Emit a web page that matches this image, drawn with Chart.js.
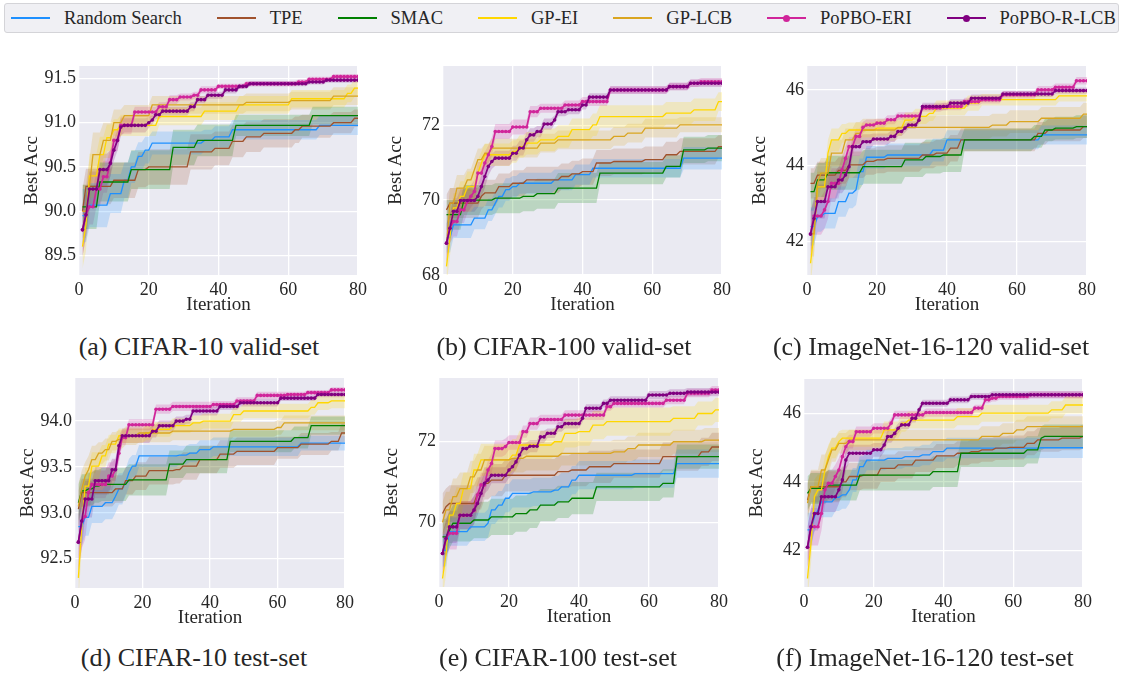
<!DOCTYPE html>
<html>
<head>
<meta charset="utf-8">
<script src="https://cdn.jsdelivr.net/npm/chart.js@4.4.1/dist/chart.umd.min.js"></script>
<style>
  body { margin: 0; width: 1123px; height: 673px; background: #fff; position: relative; overflow: hidden; font-family: 'Liberation Serif', 'DejaVu Serif', serif; color: #262626; }
  #legend { position: absolute; left: 4px; top: 3px; width: 1115px; height: 30px; box-sizing: border-box; border: 1px solid #d4d4d8; border-radius: 3px; background: #f0f0f4; display: flex; align-items: center; padding-left: 6px; gap: 35px; font-size: 18.5px; }
  .item { display: flex; align-items: center; white-space: nowrap; }
  .swatch { position: relative; width: 39px; height: 2.6px; margin-right: 14px; }
  .swatch i { position: absolute; left: 16px; top: -2.2px; width: 7px; height: 7px; border-radius: 50%; }
  canvas { position: absolute; }
  .caption { position: absolute; font-size: 26px; white-space: nowrap; transform: translate(-50%, -50%); }
</style>
</head>
<body>
<div id="legend"></div>

<script>
// --- series look ---
const seriesNames = ['Random Search', 'TPE', 'SMAC', 'GP-EI', 'GP-LCB', 'PoPBO-ERI', 'PoPBO-R-LCB'];
const seriesColors = ['#1E90FF', '#A0522D', '#008000', '#FFD700', '#DAA520', '#D0259A', '#800080'];
const seriesMarkers = [false, false, false, false, false, true, true];

const xTicks = [0, 20, 40, 60, 80];

// --- data: [iteration, mean best acc, std] at each change of the best-so-far curve ---
// (a) CIFAR-10 valid-set
const aTicks = [89.5, 90.0, 90.5, 91.0, 91.5];
const aRS = [[1,89.95,0.3],[3,90.07,0.25],[9,90.2,0.22],[13,90.35,0.2],[15,90.5,0.18],[17,90.62,0.16],[19,90.69,0.15],[21,90.77,0.13],[36,90.8,0.12],[39,90.84,0.12],[44,90.92,0.11],[69,90.97,0.11]];
const aTPE = [[1,90.0,0.25],[2,90.28,0.2],[10,90.35,0.2],[17,90.47,0.2],[20,90.5,0.2],[32,90.67,0.2],[39,90.71,0.19],[44,90.79,0.18],[48,90.84,0.17],[53,90.88,0.16],[62,90.92,0.15],[64,90.96,0.13],[73,91.0,0.12],[79,91.05,0.1]];
const aSMAC = [[1,90.05,0.25],[6,90.33,0.22],[15,90.47,0.22],[27,90.72,0.2],[34,90.8,0.18],[45,90.97,0.12],[67,91.08,0.1]];
const aEI = [[1,89.6,0.25],[2,89.85,0.3],[3,90.4,0.25],[6,90.64,0.2],[8,90.83,0.15],[10,90.92,0.12],[12,90.97,0.12],[23,91.07,0.1],[36,91.13,0.1],[46,91.2,0.1],[61,91.27,0.1],[77,91.33,0.1],[79,91.39,0.1]];
const aLCB = [[1,90.0,0.3],[3,90.28,0.3],[4,90.64,0.25],[7,90.8,0.2],[10,91.0,0.15],[13,91.08,0.12],[21,91.2,0.1],[48,91.23,0.1],[61,91.25,0.1],[73,91.3,0.1]];
const aERI = [[1,89.79,0.3],[2,89.96,0.25],[3,90.05,0.2],[5,90.25,0.2],[7,90.39,0.18],[9,90.55,0.15],[10,90.8,0.12],[12,90.97,0.1],[16,91.12,0.06],[23,91.18,0.05],[26,91.26,0.05],[29,91.29,0.04],[33,91.31,0.04],[35,91.37,0.04],[40,91.41,0.03],[48,91.44,0.03],[63,91.46,0.03],[66,91.49,0.03],[73,91.52,0.03]];
const aRLCB = [[1,89.79,0.3],[2,89.96,0.25],[3,90.25,0.2],[6,90.47,0.18],[9,90.54,0.15],[10,90.69,0.12],[11,90.8,0.12],[12,90.95,0.1],[13,90.97,0.08],[20,91.0,0.06],[21,91.03,0.05],[22,91.09,0.05],[24,91.13,0.05],[32,91.18,0.05],[34,91.26,0.04],[37,91.31,0.04],[42,91.37,0.04],[46,91.41,0.03],[49,91.44,0.03],[66,91.46,0.03],[71,91.48,0.03]];

// (b) CIFAR-100 valid-set
const bTicks = [68, 70, 72];
const bRS = [[1,69.0,0.4],[3,69.34,0.35],[9,69.52,0.3],[13,69.74,0.3],[15,69.92,0.3],[16,70.1,0.3],[18,70.28,0.3],[20,70.36,0.28],[22,70.45,0.28],[32,70.54,0.28],[38,70.68,0.27],[43,70.85,0.25],[69,71.12,0.3]];
const bTPE = [[1,69.74,0.4],[2,69.92,0.4],[11,70.1,0.35],[12,70.19,0.35],[16,70.36,0.35],[20,70.45,0.35],[24,70.54,0.35],[34,70.63,0.35],[37,70.7,0.35],[40,70.76,0.35],[44,70.99,0.35],[49,71.03,0.35],[58,71.08,0.35],[64,71.21,0.35],[68,71.3,0.35],[79,71.43,0.3]];
const bSMAC = [[1,69.61,0.4],[6,70.0,0.4],[15,70.05,0.4],[23,70.1,0.4],[27,70.17,0.4],[33,70.32,0.4],[45,70.72,0.3],[64,70.9,0.3],[69,71.34,0.35],[76,71.39,0.35]];
const bEI = [[1,68.23,0.5],[2,69.0,0.5],[3,69.79,0.4],[5,70.1,0.4],[7,70.36,0.4],[10,70.72,0.35],[11,70.99,0.3],[12,71.21,0.3],[20,71.3,0.3],[22,71.43,0.3],[24,71.52,0.3],[28,71.61,0.3],[33,71.7,0.3],[37,71.88,0.3],[43,72.01,0.3],[45,72.23,0.3],[64,72.32,0.3],[72,72.41,0.3],[79,72.63,0.25]];
const bLCB = [[1,68.8,0.5],[2,69.92,0.4],[4,70.32,0.35],[7,70.54,0.3],[9,70.81,0.3],[10,71.08,0.3],[12,71.25,0.25],[14,71.39,0.25],[28,71.52,0.25],[33,71.61,0.25],[49,71.7,0.25],[53,71.79,0.25],[58,71.92,0.25],[68,72.01,0.2]];
const bERI = [[1,68.85,0.5],[2,69.25,0.4],[3,69.43,0.4],[5,69.74,0.35],[7,69.96,0.3],[8,70.1,0.3],[9,70.23,0.3],[10,70.72,0.3],[12,70.99,0.3],[13,71.21,0.25],[14,71.43,0.25],[15,71.83,0.2],[20,71.95,0.2],[25,72.36,0.15],[28,72.45,0.12],[35,72.54,0.12],[40,72.63,0.12],[48,72.94,0.1],[65,73.03,0.1],[71,73.12,0.1],[74,73.16,0.1]];
const bRLCB = [[1,68.85,0.5],[2,69.25,0.4],[3,69.7,0.35],[5,69.99,0.3],[10,70.1,0.3],[11,70.36,0.3],[12,70.63,0.3],[13,70.9,0.25],[14,71.03,0.2],[15,71.12,0.2],[20,71.25,0.2],[22,71.39,0.2],[24,71.61,0.18],[25,71.74,0.18],[27,71.83,0.15],[29,72.03,0.15],[32,72.14,0.12],[33,72.36,0.12],[36,72.41,0.12],[40,72.54,0.12],[42,72.75,0.1],[48,72.94,0.1],[65,73.03,0.1],[71,73.12,0.1]];

// (c) ImageNet-16-120 valid-set
const cTicks = [42, 44, 46];
const cRS = [[1,42.39,0.5],[3,42.65,0.4],[5,42.74,0.4],[9,43.05,0.4],[12,43.27,0.4],[14,43.36,0.4],[15,43.84,0.35],[17,44.22,0.3],[23,44.28,0.3],[36,44.41,0.3],[40,44.68,0.25],[67,44.81,0.25]];
const cTPE = [[1,43.53,0.4],[3,43.75,0.35],[9,43.87,0.35],[12,44.02,0.35],[17,44.11,0.35],[20,44.15,0.35],[23,44.19,0.35],[33,44.28,0.35],[37,44.33,0.35],[41,44.46,0.35],[44,44.68,0.3],[66,44.85,0.3],[69,44.94,0.3],[79,45.03,0.3]];
const cSMAC = [[1,43.31,0.5],[3,43.62,0.45],[6,43.81,0.45],[16,43.97,0.45],[28,44.15,0.45],[34,44.24,0.45],[39,44.28,0.45],[45,44.68,0.3],[65,44.77,0.3],[68,44.94,0.3],[71,44.99,0.3],[77,45.03,0.3]];
const cEI = [[1,41.42,0.6],[2,42.2,0.5],[3,43.44,0.4],[6,44.33,0.35],[7,44.68,0.3],[10,44.85,0.25],[12,44.94,0.2],[20,44.99,0.2],[28,45.2,0.2],[31,45.3,0.2],[35,45.38,0.2],[37,45.52,0.2],[46,45.65,0.2],[50,45.74,0.15],[72,45.84,0.15]];
const cLCB = [[1,42.2,0.6],[3,43.53,0.45],[4,43.8,0.4],[7,44.33,0.35],[11,44.68,0.3],[14,44.85,0.3],[16,44.94,0.3],[26,45.01,0.3],[53,45.07,0.3],[58,45.16,0.3],[67,45.25,0.3],[79,45.36,0.3]];
const cERI = [[1,42.19,0.6],[2,42.67,0.5],[5,42.83,0.5],[6,43.05,0.45],[7,43.53,0.4],[10,43.89,0.35],[11,44.19,0.3],[12,44.5,0.25],[14,44.77,0.2],[16,45.01,0.15],[17,45.07,0.15],[20,45.12,0.12],[23,45.21,0.12],[26,45.31,0.1],[33,45.52,0.1],[39,45.56,0.1],[45,45.69,0.1],[50,45.74,0.1],[56,45.87,0.1],[66,46.0,0.1],[71,46.07,0.1],[77,46.24,0.1]];
const cRLCB = [[1,42.19,0.6],[2,42.6,0.5],[3,43.05,0.45],[6,43.44,0.4],[9,43.62,0.35],[11,43.75,0.35],[12,43.97,0.3],[13,44.5,0.25],[16,44.63,0.2],[19,44.7,0.15],[24,44.77,0.15],[26,44.9,0.12],[28,44.99,0.12],[29,45.07,0.1],[32,45.2,0.1],[33,45.56,0.1],[41,45.65,0.1],[47,45.78,0.1],[56,45.89,0.08],[71,45.98,0.08]];

// (d) CIFAR-10 test-set
const dTicks = [92.5, 93.0, 93.5, 94.0];
const dRS = [[1,92.85,0.2],[3,92.95,0.2],[5,93.07,0.18],[9,93.11,0.18],[12,93.18,0.18],[13,93.26,0.17],[15,93.33,0.15],[16,93.44,0.15],[17,93.51,0.12],[19,93.62,0.12],[31,93.63,0.1],[34,93.65,0.1],[37,93.69,0.1],[41,93.72,0.1],[67,93.76,0.08]];
const dTPE = [[1,93.04,0.2],[2,93.22,0.15],[12,93.26,0.15],[15,93.35,0.15],[18,93.4,0.15],[22,93.46,0.15],[30,93.47,0.15],[32,93.51,0.15],[37,93.58,0.15],[43,93.64,0.15],[48,93.67,0.15],[60,93.71,0.12],[67,93.75,0.12],[76,93.78,0.1],[79,93.87,0.1]];
const dSMAC = [[1,93.11,0.2],[2,93.24,0.18],[4,93.26,0.18],[6,93.29,0.18],[8,93.31,0.18],[16,93.36,0.17],[28,93.53,0.15],[33,93.58,0.15],[46,93.78,0.12],[65,93.82,0.12],[70,93.95,0.1]];
const dEI = [[1,92.29,0.25],[2,92.85,0.25],[3,93.29,0.2],[5,93.51,0.15],[8,93.62,0.12],[10,93.75,0.1],[13,93.84,0.08],[21,93.87,0.08],[23,93.91,0.08],[29,93.95,0.08],[35,93.98,0.08],[38,94.0,0.08],[47,94.07,0.08],[50,94.11,0.08],[70,94.15,0.08],[72,94.2,0.08],[76,94.22,0.08]];
const dLCB = [[1,93.07,0.25],[2,93.26,0.2],[3,93.4,0.15],[4,93.47,0.15],[5,93.58,0.15],[7,93.65,0.12],[9,93.69,0.12],[11,93.78,0.1],[13,93.8,0.1],[15,93.84,0.1],[19,93.87,0.1],[29,93.89,0.1],[47,93.91,0.08],[60,93.93,0.08],[62,93.98,0.08]];
const dERI = [[1,92.68,0.3],[2,92.91,0.3],[3,92.96,0.25],[4,93.22,0.2],[5,93.31,0.15],[10,93.4,0.15],[12,93.47,0.12],[13,93.65,0.1],[14,93.82,0.08],[16,93.96,0.06],[24,94.13,0.05],[29,94.16,0.05],[41,94.18,0.04],[48,94.22,0.04],[54,94.28,0.04],[63,94.29,0.03],[69,94.31,0.03],[76,94.34,0.03]];
const dRLCB = [[1,92.68,0.3],[2,92.91,0.3],[3,93.15,0.2],[6,93.35,0.15],[11,93.47,0.12],[13,93.73,0.1],[14,93.84,0.08],[23,93.89,0.07],[25,93.95,0.06],[30,94.0,0.05],[33,94.02,0.05],[35,94.11,0.05],[43,94.16,0.04],[49,94.2,0.04],[61,94.25,0.03],[72,94.29,0.03]];

// (e) CIFAR-100 test-set
const eTicks = [70, 72];
const eRS = [[1,69.31,0.4],[3,69.77,0.35],[9,69.89,0.35],[14,69.98,0.35],[15,70.31,0.35],[17,70.43,0.35],[19,70.6,0.35],[21,70.72,0.35],[27,70.76,0.35],[33,70.8,0.35],[35,70.88,0.35],[38,71.05,0.35],[40,71.17,0.35],[56,71.21,0.35],[68,71.46,0.35]];
const eTPE = [[1,70.22,0.5],[2,70.39,0.45],[3,70.47,0.45],[11,70.72,0.4],[13,70.97,0.4],[15,71.05,0.4],[19,71.17,0.4],[34,71.26,0.4],[38,71.3,0.4],[43,71.38,0.4],[50,71.46,0.35],[64,71.63,0.35],[75,71.75,0.35],[78,71.87,0.35]];
const eSMAC = [[1,69.64,0.45],[3,69.81,0.45],[4,69.98,0.45],[10,70.06,0.45],[15,70.14,0.45],[22,70.22,0.45],[26,70.31,0.45],[29,70.43,0.4],[34,70.51,0.4],[38,70.6,0.4],[45,70.88,0.35],[64,70.97,0.35],[68,71.63,0.3]];
const eEI = [[1,68.61,0.5],[2,69.2,0.5],[3,70.18,0.4],[5,70.47,0.4],[7,70.84,0.4],[10,71.3,0.4],[12,71.55,0.4],[21,71.67,0.4],[23,71.92,0.35],[33,72.0,0.35],[36,72.21,0.35],[40,72.25,0.35],[44,72.41,0.35],[48,72.5,0.35],[67,72.58,0.3],[74,72.7,0.3],[79,72.79,0.3]];
const eLCB = [[1,70.0,0.5],[2,70.31,0.45],[4,70.64,0.45],[6,70.84,0.4],[9,71.13,0.4],[11,71.3,0.4],[13,71.55,0.35],[21,71.59,0.35],[25,71.64,0.35],[35,71.71,0.3],[50,71.75,0.3],[54,71.83,0.3],[57,71.92,0.3],[67,72.0,0.3],[76,72.04,0.3]];
const eERI = [[1,69.23,0.5],[2,69.6,0.45],[3,69.73,0.4],[6,70.18,0.35],[10,70.3,0.35],[11,70.68,0.3],[12,70.93,0.3],[14,71.3,0.25],[15,71.46,0.25],[16,71.83,0.2],[19,71.88,0.2],[20,71.98,0.18],[24,72.25,0.15],[26,72.45,0.15],[29,72.55,0.12],[36,72.66,0.12],[48,72.87,0.1],[50,72.95,0.1],[65,73.03,0.1],[71,73.2,0.1],[78,73.28,0.1]];
const eRLCB = [[1,69.23,0.5],[2,69.6,0.45],[3,69.89,0.4],[6,70.18,0.35],[10,70.31,0.35],[11,70.47,0.3],[12,70.72,0.3],[13,70.97,0.25],[14,71.05,0.25],[15,71.17,0.2],[20,71.3,0.2],[21,71.38,0.2],[22,71.5,0.18],[23,71.67,0.18],[24,71.83,0.15],[26,71.89,0.15],[29,72.12,0.15],[31,72.21,0.12],[34,72.37,0.12],[36,72.45,0.12],[41,72.58,0.1],[42,72.83,0.1],[47,72.95,0.1],[49,73.03,0.1],[60,73.16,0.1],[66,73.2,0.1],[71,73.23,0.1]];

// (f) ImageNet-16-120 test-set
const fTicks = [42, 44, 46];
const fRS = [[1,42.6,0.5],[3,42.99,0.45],[4,43.18,0.45],[5,43.42,0.45],[9,43.55,0.4],[11,43.62,0.4],[13,43.77,0.4],[14,44.06,0.35],[16,44.45,0.3],[18,44.64,0.3],[24,44.69,0.3],[29,44.74,0.3],[34,44.79,0.3],[37,44.89,0.3],[41,44.99,0.3],[68,45.0,0.3]];
const fTPE = [[1,43.47,0.5],[2,43.86,0.45],[11,44.0,0.45],[13,44.16,0.4],[17,44.2,0.4],[22,44.4,0.4],[27,44.5,0.4],[32,44.64,0.35],[38,44.76,0.35],[44,44.84,0.35],[48,44.89,0.35],[51,44.94,0.35],[55,44.99,0.35],[59,45.01,0.35],[64,45.13,0.35],[67,45.23,0.35],[74,45.28,0.35],[80,45.33,0.35]];
const fSMAC = [[1,43.67,0.5],[2,43.81,0.45],[7,43.91,0.45],[16,44.2,0.45],[37,44.3,0.45],[45,44.84,0.4],[64,44.94,0.4],[68,45.28,0.35],[69,45.33,0.35]];
const fEI = [[1,41.18,0.6],[2,42.2,0.6],[3,43.57,0.5],[4,43.77,0.45],[6,44.35,0.4],[7,44.74,0.35],[8,44.99,0.3],[10,45.18,0.3],[11,45.28,0.25],[23,45.52,0.25],[28,45.72,0.25],[30,45.81,0.25],[44,45.91,0.25],[51,46.01,0.25],[71,46.11,0.25],[75,46.25,0.25]];
const fLCB = [[1,43.38,0.55],[2,43.86,0.5],[5,44.35,0.45],[7,44.64,0.4],[8,44.94,0.35],[10,45.13,0.3],[13,45.23,0.3],[51,45.33,0.3],[57,45.42,0.3],[61,45.52,0.3],[64,45.62,0.3]];
const fERI = [[1,42.09,0.6],[2,42.69,0.55],[5,43.08,0.5],[6,43.77,0.45],[7,43.96,0.4],[9,44.16,0.35],[10,44.35,0.35],[11,44.74,0.3],[12,45.03,0.25],[13,45.18,0.2],[15,45.47,0.15],[20,45.57,0.15],[25,45.72,0.15],[26,45.96,0.12],[35,46.03,0.12],[49,46.16,0.1],[52,46.4,0.1],[54,46.45,0.1],[56,46.5,0.1],[65,46.55,0.1]];
const fRLCB = [[1,42.09,0.6],[2,42.69,0.55],[3,43.08,0.5],[5,43.57,0.45],[10,43.77,0.4],[11,44.06,0.35],[12,44.64,0.3],[13,44.84,0.25],[20,44.94,0.2],[23,45.08,0.2],[24,45.33,0.18],[26,45.42,0.15],[27,45.57,0.15],[28,45.67,0.12],[31,45.86,0.12],[33,46.11,0.1],[34,46.3,0.1],[42,46.4,0.1],[48,46.5,0.1],[54,46.55,0.1]];

// --- panel layout: plot-area rect [left, top, width, height] in page pixels ---
const panels = [
    { rect: [79, 66, 279, 209], yRange: [89.28, 91.64], ticks: aTicks, dec: 1, caption: '(a) CIFAR-10 valid-set', capPos: [199, 347], series: [aRS, aTPE, aSMAC, aEI, aLCB, aERI, aRLCB] },
    { rect: [443, 66, 279, 209], yRange: [68, 73.58], ticks: bTicks, dec: 0, caption: '(b) CIFAR-100 valid-set', capPos: [564, 347], series: [bRS, bTPE, bSMAC, bEI, bLCB, bERI, bRLCB] },
    { rect: [807, 66, 280, 209], yRange: [41.11, 46.63], ticks: cTicks, dec: 0, caption: '(c) ImageNet-16-120 valid-set', capPos: [931, 347], series: [cRS, cTPE, cSMAC, cEI, cLCB, cERI, cRLCB] },
    { rect: [75, 378, 270, 210], yRange: [92.18, 94.47], ticks: dTicks, dec: 1, caption: '(d) CIFAR-10 test-set', capPos: [194, 658], series: [dRS, dTPE, dSMAC, dEI, dLCB, dERI, dRLCB] },
    { rect: [439, 378, 280, 209], yRange: [68.40, 73.58], ticks: eTicks, dec: 0, caption: '(e) CIFAR-100 test-set', capPos: [558, 658], series: [eRS, eTPE, eSMAC, eEI, eLCB, eERI, eRLCB] },
    { rect: [804, 379, 279, 208], yRange: [40.93, 47.01], ticks: fTicks, dec: 0, caption: '(f) ImageNet-16-120 test-set', capPos: [925, 658], series: [fRS, fTPE, fSMAC, fEI, fLCB, fERI, fRLCB] }
];

const Y_AXIS_W = 75, X_AXIS_H = 48, PAD_TOP = 16, PAD_RIGHT = 14;
const FONT = "'Liberation Serif', 'DejaVu Serif', serif";
const TEXT = '#262626';

// hold each best-so-far value until the next change
const expandSteps = (steps) => {
    const out = [];
    let k = 0;
    for (let it = steps[0][0]; it <= 80; it++) {
        while (k + 1 < steps.length && steps[k + 1][0] <= it) k++;
        out.push({ x: it, y: steps[k][1], sd: steps[k][2] });
    }
    return out;
};

const hexToRgba = (hex, a) => {
    const n = parseInt(hex.slice(1), 16);
    return `rgba(${(n >> 16) & 255}, ${(n >> 8) & 255}, ${n & 255}, ${a})`;
};

const plotBg = {
    id: 'plotBg',
    beforeDraw(chart) {
        const { ctx, chartArea: a } = chart;
        ctx.save();
        ctx.fillStyle = '#EAEAF2';
        ctx.fillRect(a.left, a.top, a.right - a.left, a.bottom - a.top);
        ctx.restore();
    }
};

// --- legend ---
const legendEl = document.getElementById('legend');
legendEl.innerHTML = seriesNames.map((name, i) => `
    <div class="item">
        <span class="swatch" style="background:${seriesColors[i]}">${seriesMarkers[i] ? `<i style="background:${seriesColors[i]}"></i>` : ''}</span>
        <span>${name}</span>
    </div>`).join('');

// --- panels ---
panels.forEach((p) => {
    const [l, t, w, h] = p.rect;
    const canvas = document.createElement('canvas');
    canvas.width = w + Y_AXIS_W + PAD_RIGHT;
    canvas.height = h + PAD_TOP + X_AXIS_H;
    canvas.style.left = (l - Y_AXIS_W) + 'px';
    canvas.style.top = (t - PAD_TOP) + 'px';
    document.body.appendChild(canvas);

    const cap = document.createElement('div');
    cap.className = 'caption';
    cap.textContent = p.caption;
    cap.style.left = p.capPos[0] + 'px';
    cap.style.top = p.capPos[1] + 'px';
    document.body.appendChild(cap);

    const datasets = [];
    p.series.forEach((steps, i) => {
        const pts = expandSteps(steps);
        const color = seriesColors[i];
        datasets.push({
            label: seriesNames[i] + ' hi', data: pts.map(q => ({ x: q.x, y: q.y + q.sd })),
            borderWidth: 0, pointRadius: 0, fill: false, order: 100 + i
        });
        datasets.push({
            label: seriesNames[i] + ' lo', data: pts.map(q => ({ x: q.x, y: q.y - q.sd })),
            borderWidth: 0, pointRadius: 0, fill: '-1', backgroundColor: hexToRgba(color, 0.2), order: 100 + i
        });
        datasets.push({
            label: seriesNames[i], data: pts.map(q => ({ x: q.x, y: q.y })),
            borderColor: color, backgroundColor: color,
            borderWidth: seriesMarkers[i] ? 1.7 : 1.3,
            pointRadius: seriesMarkers[i] ? 1.8 : 0, pointBorderWidth: 0,
            tension: 0, fill: false, order: 10 - i
        });
    });

    new Chart(canvas, {
        type: 'line',
        data: { datasets },
        options: {
            responsive: false, animation: false, devicePixelRatio: 1,
            layout: { padding: { top: PAD_TOP, right: PAD_RIGHT, left: 0, bottom: 0 } },
            plugins: { legend: { display: false }, tooltip: { enabled: false } },
            scales: {
                x: {
                    type: 'linear', min: 0, max: 80,
                    afterBuildTicks: s => { s.ticks = xTicks.map(v => ({ value: v })); },
                    afterFit: s => { s.height = X_AXIS_H; },
                    grid: { color: '#ffffff', lineWidth: 1.3, drawTicks: false },
                    border: { display: false },
                    ticks: { color: TEXT, font: { family: FONT, size: 18 }, padding: 4, maxRotation: 0 },
                    title: { display: true, text: 'Iteration', color: TEXT, font: { family: FONT, size: 19 }, padding: { top: 0, bottom: 7 } }
                },
                y: {
                    min: p.yRange[0], max: p.yRange[1],
                    afterBuildTicks: s => { s.ticks = p.ticks.map(v => ({ value: v })); },
                    afterFit: s => { s.width = Y_AXIS_W; },
                    grid: { color: '#ffffff', lineWidth: 1.3, drawTicks: false },
                    border: { display: false },
                    ticks: { color: TEXT, font: { family: FONT, size: 18 }, padding: 3, callback: v => v.toFixed(p.dec) },
                    title: { display: true, text: 'Best Acc', color: TEXT, font: { family: FONT, size: 19 }, padding: { top: 17, bottom: 0 } }
                }
            }
        },
        plugins: [plotBg]
    });
});
</script>
</body>
</html>
